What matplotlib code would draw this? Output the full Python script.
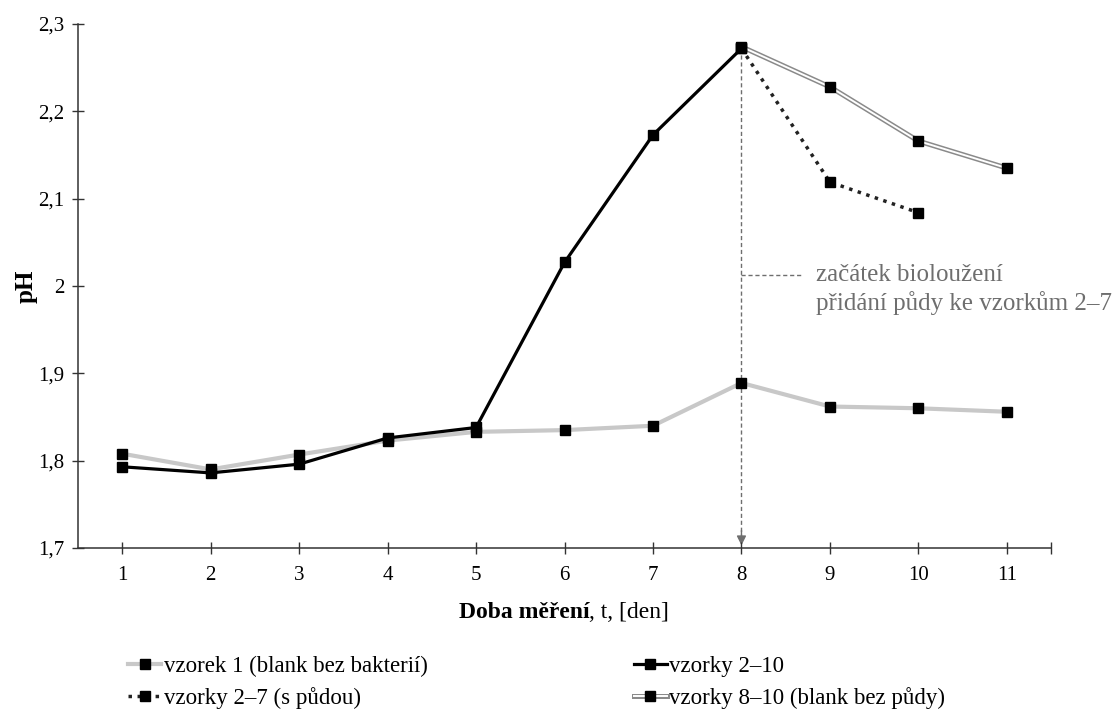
import matplotlib
matplotlib.use("Agg")
import matplotlib.pyplot as plt
import matplotlib.patheffects as pe
from matplotlib.offsetbox import TextArea, HPacker, AnchoredOffsetbox
from matplotlib.legend_handler import HandlerTuple

plt.rcParams['font.family'] = ['Liberation Serif', 'DejaVu Serif']

days = [1, 2, 3, 4, 5, 6, 7, 8, 9, 10, 11]
# vzorek 1 (blank bez bakterií)
ph_blank = [1.808, 1.790, 1.807, 1.823, 1.833, 1.835, 1.840, 1.889, 1.862, 1.860, 1.856]
# vzorky 2–10
days_all = [1, 2, 3, 4, 5, 6, 7, 8]
ph_all = [1.793, 1.786, 1.796, 1.826, 1.838, 2.027, 2.173, 2.272]
# vzorky 2–7 (s půdou)
days_soil = [8, 9, 10]
ph_soil = [2.272, 2.119, 2.084]
# vzorky 8–10 (blank bez půdy)
days_nosoil = [8, 9, 10, 11]
ph_nosoil = [2.274, 2.228, 2.166, 2.135]

labels = ["vzorek 1 (blank bez bakterií)", "vzorky 2–7 (s půdou)",
          "vzorky 2–10", "vzorky 8–10 (blank bez půdy)"]
annot_lines = ["začátek bioloužení", "přidání půdy ke vzorkům 2–7"]
yticks = [1.7, 1.8, 1.9, 2.0, 2.1, 2.2, 2.3]
ytick_labels = ["1,7", "1,8", "1,9", "2", "2,1", "2,2", "2,3"]

fig = plt.figure(figsize=(11.17, 7.17), dpi=100)
ax = fig.add_axes([0.0698, 0.2357, 0.941 - 0.0698, 0.9665 - 0.2357])

ms = 7
l_gray, = ax.plot(days, ph_blank, color='#c8c8c8', lw=3, zorder=2)
m_gray, = ax.plot(days, ph_blank, ls='none', marker='s', ms=ms, color='black', zorder=5)

l_black, = ax.plot(days_all, ph_all, color='black', lw=2.3, zorder=3)
m_black, = ax.plot(days_all, ph_all, ls='none', marker='s', ms=ms, color='black', zorder=5)

l_dot, = ax.plot(days_soil, ph_soil, color='#222222', lw=2.5, ls=(0, (1, 1.6)), zorder=3)
m_dot, = ax.plot(days_soil, ph_soil, ls='none', marker='s', ms=ms, color='black', zorder=5)

l_dbl, = ax.plot(days_nosoil, ph_nosoil, color='white', lw=1.4, zorder=3,
                 path_effects=[pe.Stroke(linewidth=3.6, foreground='#8a8a8a'), pe.Normal()])
m_dbl, = ax.plot(days_nosoil, ph_nosoil, ls='none', marker='s', ms=ms, color='black', zorder=5)

# vertical dashed marker line at day 8 with arrow
x8 = days_all[-1]
annot_y = 2.013
ax.plot([x8, x8], [ph_all[-1], yticks[0] + 0.012], color='#6e6e6e', lw=1,
        ls=(0, (3, 2)), zorder=1)
ax.annotate('', xy=(x8, yticks[0] + 0.003), xytext=(x8, yticks[0] + 0.02),
            arrowprops=dict(arrowstyle='-|>', color='#6e6e6e', lw=1, mutation_scale=14,
                            shrinkA=0, shrinkB=0), zorder=1)
ax.plot([x8, x8 + 0.70], [annot_y, annot_y], color='#6e6e6e', lw=1, ls=(0, (3, 2)), zorder=1)
ax.annotate(annot_lines[0], xy=(x8 + 0.84, annot_y), color='#6e6e6e', fontsize=18,
            ha='left', va='center', annotation_clip=False)
ax.annotate(annot_lines[1], xy=(x8 + 0.84, annot_y), xytext=(0, -20.5),
            textcoords='offset points', color='#6e6e6e', fontsize=18,
            ha='left', va='center', annotation_clip=False)

ax.set_xlim(0.5, 11.5)
ax.set_ylim(1.7, 2.3)
ax.set_xticks(days)
ax.set_xticks([11.5], minor=True)
ax.set_xticklabels([str(d) for d in days])
ax.set_yticks(yticks)
ax.set_yticklabels(ytick_labels)
ax.tick_params(axis='x', which='both', direction='inout', length=8, width=1,
               color='#333333', labelsize=15, pad=9)
ax.tick_params(axis='y', direction='inout', length=8, width=1, color='#333333',
               labelsize=15, pad=6)
for s in ['top', 'right']:
    ax.spines[s].set_visible(False)
for s in ['left', 'bottom']:
    ax.spines[s].set_color('#333333')
    ax.spines[s].set_linewidth(1.1)

ax.set_ylabel("pH", fontsize=18, fontweight='bold', labelpad=0)

box = HPacker(children=[TextArea("Doba měření", textprops=dict(fontsize=17, fontweight='bold')),
                        TextArea(", t, [den]", textprops=dict(fontsize=17))],
              pad=0, sep=0, align='baseline')
anch = AnchoredOffsetbox(loc='center', child=box, frameon=False, pad=0, borderpad=0,
                         bbox_to_anchor=(564 / 1117, 1 - 612 / 717),
                         bbox_transform=fig.transFigure)
fig.add_artist(anch)

handles = [(l_gray, m_gray), (l_dot, m_dot), (l_black, m_black), (l_dbl, m_dbl)]
fig.legend(handles, labels, handler_map={tuple: HandlerTuple(ndivide=1, pad=0)},
           loc='upper left', bbox_to_anchor=(128 / 1117, 1 - 656 / 717), ncol=2,
           frameon=False, fontsize=16.5, handlelength=1.45, handletextpad=0.1,
           columnspacing=9.0, labelspacing=0.45, borderpad=0, borderaxespad=0)

fig.savefig("out.png", dpi=100)
